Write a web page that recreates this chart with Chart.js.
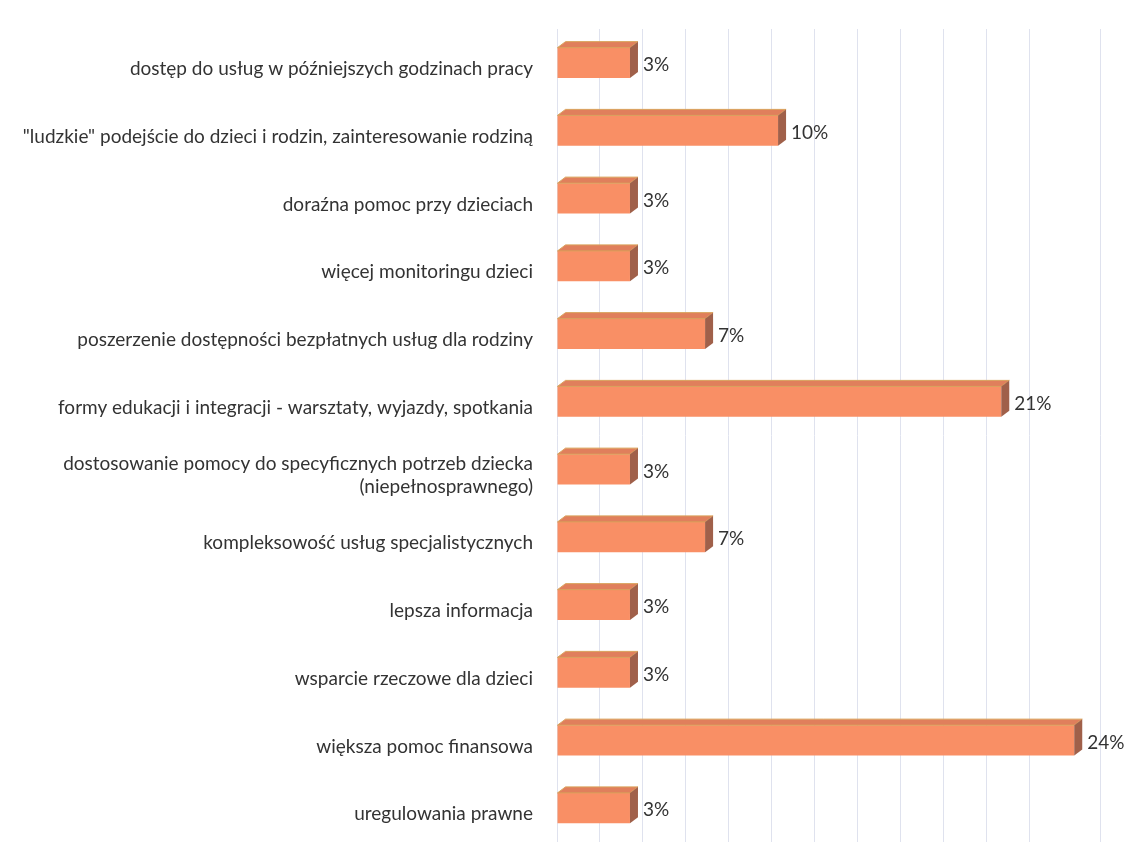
<!DOCTYPE html>
<html>
<head>
<meta charset="utf-8">
<script src="https://cdn.jsdelivr.net/npm/chart.js@4/dist/chart.umd.min.js"></script>
<style>
  html, body { margin: 0; padding: 0; background: #fff; }
  #wrap { width: 1135px; height: 842px; position: relative; }
</style>
</head>
<body>
<div id="wrap"><canvas id="chart"></canvas></div>
<script>
const categories = [
  "dostęp do usług w późniejszych godzinach pracy",
  "\"ludzkie\" podejście do dzieci i rodzin, zainteresowanie rodziną",
  "doraźna pomoc przy dzieciach",
  "więcej monitoringu dzieci",
  "poszerzenie dostępności bezpłatnych usług dla rodziny",
  "formy edukacji i integracji - warsztaty, wyjazdy, spotkania",
  ["dostosowanie pomocy do specyficznych potrzeb dziecka", "(niepełnosprawnego)"],
  "kompleksowość usług specjalistycznych",
  "lepsza informacja",
  "wsparcie rzeczowe dla dzieci",
  "większa pomoc finansowa",
  "uregulowania prawne"
];
const values = [3.4, 10.3, 3.4, 3.4, 6.9, 20.7, 3.4, 6.9, 3.4, 3.4, 24.1, 3.4];

const DX = 8, DY = 6;

// draws the top and side faces plus the value labels
const bars3d = {
  id: "bars3d",
  afterDatasetsDraw(chart) {
    const ctx = chart.ctx;
    const meta = chart.getDatasetMeta(0);
    meta.data.forEach((bar, i) => {
      const top = bar.y - bar.height / 2;
      const bottom = bar.y + bar.height / 2;
      const left = bar.base;
      const right = bar.x;
      ctx.save();
      // top face
      ctx.beginPath();
      ctx.moveTo(left, top);
      ctx.lineTo(left + DX, top - DY);
      ctx.lineTo(right + DX, top - DY);
      ctx.lineTo(right, top);
      ctx.closePath();
      ctx.fillStyle = "#e07f5c";
      ctx.fill();
      ctx.strokeStyle = "#d9a15a";
      ctx.lineWidth = 1;
      ctx.stroke();
      // side face
      ctx.beginPath();
      ctx.moveTo(right, top);
      ctx.lineTo(right + DX, top - DY);
      ctx.lineTo(right + DX, bottom - DY);
      ctx.lineTo(right, bottom);
      ctx.closePath();
      ctx.fillStyle = "#a0604a";
      ctx.fill();
      // value label
      ctx.fillStyle = "#333";
      ctx.font = "19px Lato";
      ctx.textAlign = "left";
      ctx.textBaseline = "middle";
      ctx.fillText(Math.round(values[i]) + "%", right + DX + 5, bar.y + 2);
      ctx.restore();
    });
  }
};

new Chart(document.getElementById("chart"), {
  type: "bar",
  data: {
    labels: categories,
    datasets: [
      {
        data: values,
        backgroundColor: "#f98f65",
        borderWidth: 0,
        barPercentage: 0.45,
        categoryPercentage: 1
      }
    ]
  },
  options: {
    indexAxis: "y",
    responsive: true,
    maintainAspectRatio: false,
    animation: false,
    layout: {
      padding: { top: 29, right: 35, bottom: 0, left: 0 }
    },
    plugins: {
      legend: { display: false },
      tooltip: { enabled: false }
    },
    scales: {
      x: {
        min: 0,
        max: 25.3,
        ticks: { display: false, stepSize: 2 },
        grid: { color: "#dfe2ee", drawTicks: false },
        border: { display: false },
        afterFit(scale) {
          scale.height = 0;
          scale.paddingLeft = 0;
          scale.paddingRight = 0;
        }
      },
      y: {
        ticks: {
          color: "#333",
          font: { family: "Lato", size: 19 },
          padding: 24,
          labelOffset: 6
        },
        grid: { display: false, drawTicks: false },
        border: { display: false },
        afterFit(scale) {
          scale.width = 557;
          scale.paddingTop = 0;
          scale.paddingBottom = 0;
        }
      }
    }
  },
  plugins: [bars3d]
});
</script>
</body>
</html>
